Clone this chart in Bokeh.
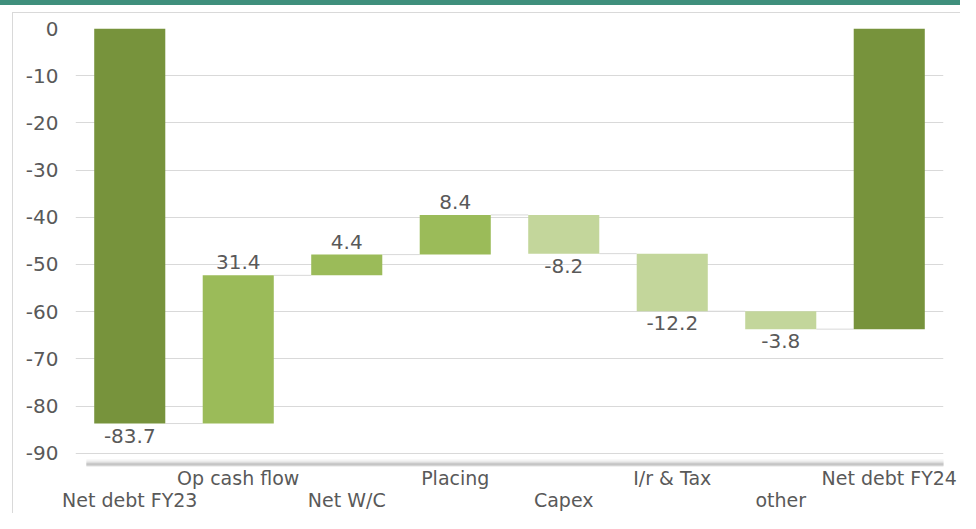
from bokeh.plotting import figure
from bokeh.models import Range1d, FixedTicker, LinearAxis, Div, ColumnDataSource
from bokeh.layouts import column
from bokeh.embed import file_html
from bokeh.resources import INLINE

categories = ["Net debt FY23", "Op cash flow", "Net W/C", "Placing",
              "Capex", "I/r & Tax", "other", "Net debt FY24"]
changes = [-83.7, 31.4, 4.4, 8.4, -8.2, -12.2, -3.8, -63.7]
is_total = [True, False, False, False, False, False, False, True]
data_labels = ["-83.7", "31.4", "4.4", "8.4", "-8.2", "-12.2", "-3.8", ""]
y_ticks = [0, -10, -20, -30, -40, -50, -60, -70, -80, -90]
y_tick_labels = ["0", "-10", "-20", "-30", "-40", "-50", "-60", "-70", "-80", "-90"]

DARK, MID, LIGHT = "#77933C", "#9BBB59", "#C3D69B"
TEXT = "#595959"
FONT = "DejaVu Sans"
FS = "20px"
W = 0.655

xs = list(range(len(categories)))
bottoms, tops, colors, ends = [], [], [], []
running = 0.0
for i, v in enumerate(changes):
    if is_total[i]:
        start, end = 0.0, v
        colors.append(DARK)
    else:
        start, end = running, running + v
        colors.append(MID if v > 0 else LIGHT)
    running = end
    bottoms.append(min(start, end))
    tops.append(max(start, end))
    ends.append(end)

p = figure(width=960, height=508, output_backend="svg", toolbar_location=None,
           x_range=Range1d(-0.5, 7.5), y_range=Range1d(-92.8, 0),
           x_axis_location=None, min_border_left=75, min_border_right=17,
           min_border_top=23, min_border_bottom=47,
           background_fill_color="white", border_fill_alpha=0)
p.outline_line_color = None
p.xgrid.visible = False
p.ygrid.ticker = FixedTicker(ticks=y_ticks)
p.ygrid.grid_line_color = "#D9D9D9"
p.ygrid.grid_line_width = 1
p.styles = {
    "background": "linear-gradient(#D9D9D9,#D9D9D9) 12px 7px / 1px 100% no-repeat, "
                  "linear-gradient(#D9D9D9,#D9D9D9) 12px 7px / 100% 1px no-repeat, white"
}

ya = p.yaxis[0]
ya.ticker = FixedTicker(ticks=y_ticks)
ya.major_label_overrides = dict(zip(y_ticks, y_tick_labels))
ya.axis_line_color = None
ya.major_tick_line_color = None
ya.minor_tick_line_color = None
ya.major_tick_in = 0
ya.major_tick_out = 0
ya.major_label_standoff = 17
ya.major_label_text_font = FONT
ya.major_label_text_font_size = FS
ya.major_label_text_color = TEXT

# shadow under the base line
for lw, a in [(10, 0.07), (7, 0.10), (4, 0.16), (2, 0.22)]:
    p.line([-0.4, 7.6], [-92.3, -92.3], line_width=lw, line_color="#808080", line_alpha=a)

# connectors
cx0 = [xs[i] + W / 2 for i in range(len(xs) - 1)]
cx1 = [xs[i + 1] - W / 2 for i in range(len(xs) - 1)]
cy = ends[:-1]
p.segment(x0=cx0, y0=cy, x1=cx1, y1=cy, line_color="#D9D9D9", line_width=1)

src = ColumnDataSource(dict(x=xs, bottom=bottoms, top=tops, color=colors))
p.vbar(x="x", width=W, bottom="bottom", top="top", fill_color="color",
       line_color=None, source=src)

# data labels
up = [i for i, v in enumerate(changes) if v > 0 and not is_total[i]]
dn = [i for i in range(len(changes)) if i not in up]
p.text(x=[xs[i] for i in up], y=[tops[i] for i in up], text=[data_labels[i] for i in up],
       text_align="center", text_baseline="bottom", y_offset=-6,
       text_font={"value": FONT}, text_font_size=FS, text_color=TEXT)
p.text(x=[xs[i] for i in dn], y=[bottoms[i] for i in dn], text=[data_labels[i] for i in dn],
       text_align="center", text_baseline="top", y_offset=5,
       text_font={"value": FONT}, text_font_size=FS, text_color=TEXT)

# staggered category axis (even categories on the second line)
xa = LinearAxis(ticker=FixedTicker(ticks=xs),
                major_label_overrides={i: (categories[i] if i % 2 else "\n" + categories[i])
                                       for i in xs})
xa.axis_line_color = None
xa.major_tick_line_color = None
xa.minor_tick_line_color = None
xa.major_tick_in = 0
xa.major_tick_out = 0
xa.major_label_standoff = 0
xa.major_label_text_font = FONT
xa.major_label_text_font_size = "19px"
xa.major_label_text_color = TEXT
xa.major_label_text_line_height = 1.0
p.add_layout(xa, "below")

band = Div(text="", width=960, height=5, margin=0,
           styles={"background-color": "#3F8F7C"})
p.margin = 0
layout = column(band, p, spacing=0)

open("out.html", "w").write(file_html(layout, INLINE))
